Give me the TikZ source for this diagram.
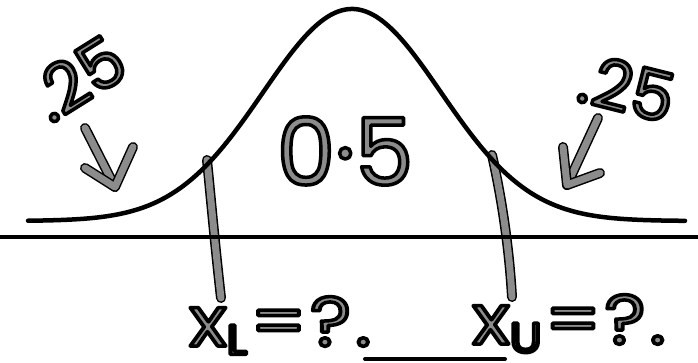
\documentclass[tikz,border=0pt]{standalone}
\usepackage{fontspec}
\setmainfont{Poppins}
\definecolor{markgray}{RGB}{140,140,140}
\newcommand{\outl}[1]{\special{pdf:literal direct 2 Tr 0 G 3.5 w 1 j}#1\special{pdf:literal direct 0 Tr}}
\begin{document}
\begin{tikzpicture}[x=1pt,y=-1pt,
  markstroke/.style={draw=markgray, line width=7pt, line cap=round, line join=round, preaction={draw=black, line width=10pt, line cap=round, line join=round}},
  hand/.style={text=markgray, inner sep=0pt},
  inkline/.style={draw=black, line width=4.5pt, line cap=round}]
\useasboundingbox (0,0) rectangle (698,362);
% vertical markers
\coordinate (l1) at (207,160); \coordinate (l2) at (221,298);
\coordinate (r1) at (492,155); \coordinate (r2) at (512,297);
\path[markstroke] (l1) .. controls (211,200) and (215,245) .. (l2);
\path[markstroke] (r1) .. controls (501,195) and (509,245) .. (r2);
% bell curve
\draw[inkline, domain=28:685, samples=120, smooth]
  plot (\x, {221-212*exp(-0.5*((\x-352)/89)*((\x-352)/89))});
% axis
\coordinate (a1) at (0,237); \coordinate (a2) at (698,237);
\draw[black, line width=4.5pt] (a1) -- (a2);
% bottom underline
\coordinate (u1) at (365,359); \coordinate (u2) at (505,359);
\draw[inkline, line width=4pt] (u1) -- (u2);
% arrows
\coordinate (lt) at (115,187);
\path[markstroke] (85,128) -- (lt);
\path[markstroke] (85,168) -- (lt) -- (133,147);
\coordinate (rt) at (567,185);
\path[markstroke] (598,118) -- (rt);
\path[markstroke] (563,147) -- (rt) -- (600,173);
% texts
\node[hand, font=\fontsize{68}{68}\selectfont, rotate=32] (pl) at (78,78) {\outl{.25}};
\node[hand, font=\fontsize{68}{68}\selectfont, rotate=-14] (pr) at (627,88) {\outl{.25}};
\node[hand, font=\fontsize{93}{93}\selectfont] (mid) at (345,151) {\outl{0·5}};
\node[hand, font=\fontsize{70}{70}\selectfont, anchor=base west, xscale=1.12] (xl) at (189,346)
  {\outl{x\raisebox{-.12em}{\fontsize{42}{42}\selectfont L}\kern.04em=\kern.04em?\kern.05em.}};
\node[hand, font=\fontsize{70}{70}\selectfont, anchor=base west, xscale=1.12] (xu) at (472,344)
  {\outl{x\raisebox{-.12em}{\fontsize{42}{42}\selectfont U}\kern.04em=\kern.04em?\kern.05em.}};
\end{tikzpicture}
\end{document}
